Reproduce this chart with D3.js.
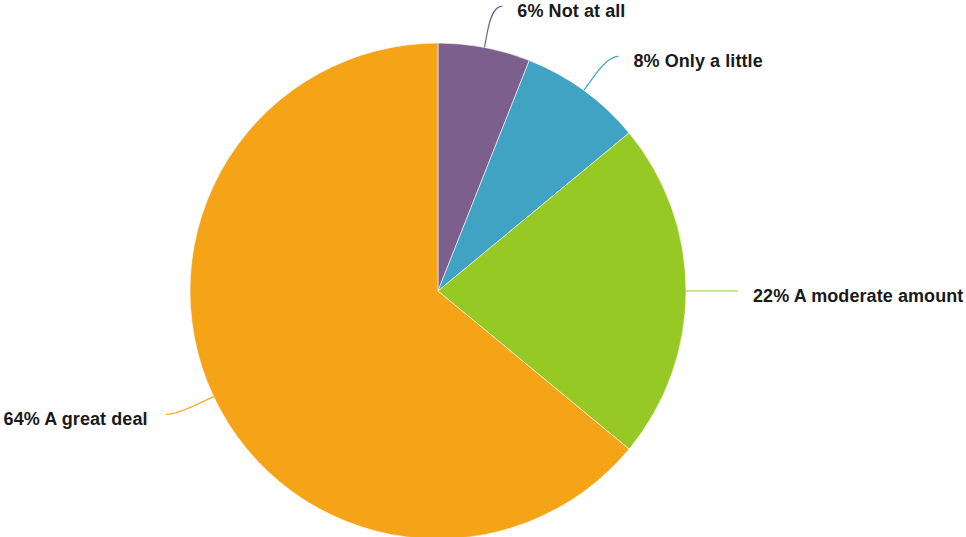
<!DOCTYPE html>
<html><head><meta charset="utf-8">
<script src="https://cdn.jsdelivr.net/npm/d3@7"></script>
<style>html,body{margin:0;padding:0;background:#fff;}svg{display:block;}</style>
</head><body>
<script>
const categories = ["Not at all", "Only a little", "A moderate amount", "A great deal"];
const values = [6, 8, 22, 64];
const colors = ["#7c5f8d", "#40a3c3", "#97c925", "#f5a418"];

const W = 966, H = 537;
const cx = 438, cy = 291, r = 248, labelR = 290, breakR = 266;
const svg = d3.select("body").append("svg").attr("width", W).attr("height", H);
const g = svg.append("g").attr("transform", `translate(${cx},${cy})`);

const data = categories.map((c, i) => ({name: c, value: values[i], color: colors[i]}));
const pie = d3.pie().value(d => d.value).sort(null);
const arcs = pie(data);
const arc = d3.arc().innerRadius(0).outerRadius(r);

g.selectAll("path.slice").data(arcs).join("path")
  .attr("class", "slice")
  .attr("d", arc)
  .attr("fill", d => d.data.color)
  .attr("stroke", "#fff").attr("stroke-width", 0.8).attr("stroke-opacity", 0.7);

arcs.forEach(a => {
  const t = (a.startAngle + a.endAngle) / 2;
  const s = Math.sin(t), c = -Math.cos(t);
  const right = s >= 0;
  const touch = [r * s, r * c];
  const brk = [breakR * s, breakR * c];
  const end = [labelR * s + (right ? 10 : -10), labelR * c];
  const p = d3.path();
  p.moveTo(end[0], end[1]);
  p.bezierCurveTo(end[0] + (right ? -5 : 5), end[1], 2 * brk[0] - touch[0], 2 * brk[1] - touch[1], brk[0], brk[1]);
  p.lineTo(touch[0], touch[1]);
  g.append("path").attr("d", p.toString()).attr("fill", "none")
    .attr("stroke", a.data.color).attr("stroke-width", 1.2);
  g.append("text")
    .attr("x", end[0] + (right ? 15 : -18))
    .attr("y", end[1] + 11)
    .attr("text-anchor", right ? "start" : "end")
    .attr("font-family", "'Liberation Sans', Arial, sans-serif")
    .attr("font-weight", "bold").attr("font-size", 18)
    .attr("letter-spacing", 0.08)
    .attr("fill", "#1a1a1a")
    .text(`${a.data.value}% ${a.data.name}`);
});
</script>
</body></html>
